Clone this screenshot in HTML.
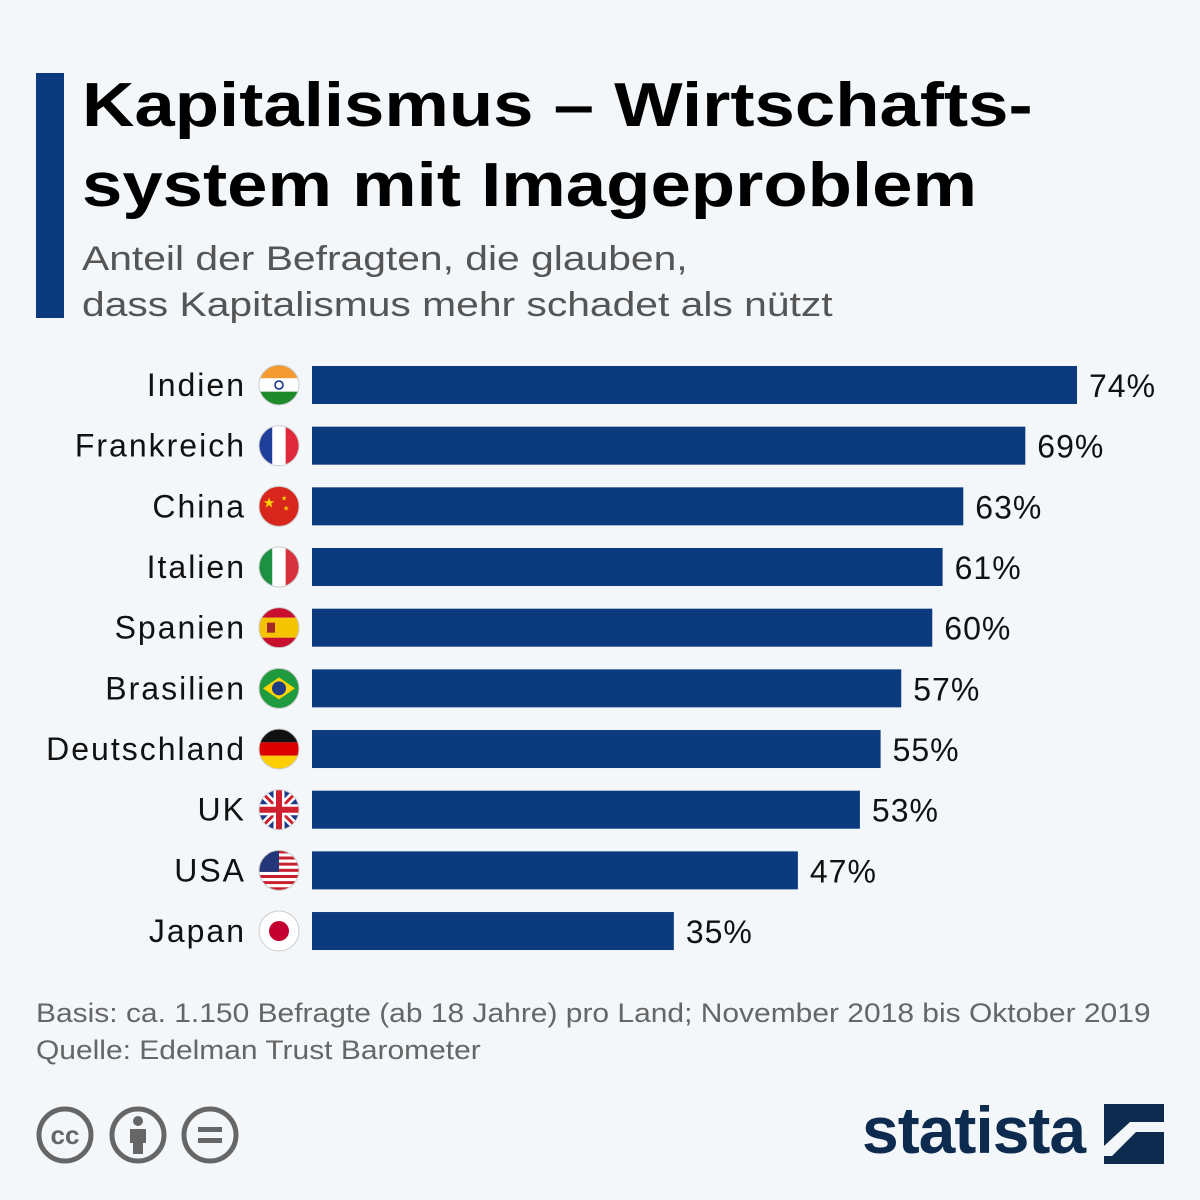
<!DOCTYPE html>
<html><head><meta charset="utf-8">
<style>
body{margin:0;width:1200px;height:1200px;background:#f3f7fa;font-family:"Liberation Sans","DejaVu Sans",sans-serif;position:relative;overflow:hidden}
.abs{position:absolute}
#title{left:82px;top:66px;font-size:62px;font-weight:bold;line-height:80px;color:#000;transform:scaleX(1.17);transform-origin:0 0;white-space:nowrap}
#sub{left:82px;top:236px;font-size:34px;line-height:46px;color:#555;transform:scaleX(1.2);transform-origin:0 0;white-space:nowrap}
#foot{left:36px;top:995px;font-size:27px;line-height:37px;color:#666;transform:scaleX(1.11);transform-origin:0 0;white-space:nowrap}
</style></head>
<body>
<div class="abs" style="left:36px;top:73px;width:28px;height:245px;background:#0b3a7e"></div>
<div class="abs" id="title">Kapitalismus – Wirtschafts-<br>system mit Imageproblem</div>
<div class="abs" id="sub">Anteil der Befragten, die glauben,<br>dass Kapitalismus mehr schadet als nützt</div>
<svg class="abs" style="left:0;top:0" width="1200" height="1200" id="chart"></svg>
<div class="abs" id="foot">Basis: ca. 1.150 Befragte (ab 18 Jahre) pro Land; November 2018 bis Oktober 2019<br>Quelle: Edelman Trust Barometer</div>
<svg class="abs" style="left:30px;top:1100px" width="220" height="70">
<g fill="none" stroke="#666" stroke-width="5">
<circle cx="35" cy="35" r="26"/><circle cx="108" cy="35" r="26"/><circle cx="180" cy="35" r="26"/></g>
<text x="35" y="44" font-size="26" font-weight="bold" fill="#666" text-anchor="middle" font-family="Liberation Sans">cc</text>
<circle cx="108" cy="21" r="5" fill="#666"/><rect x="100" y="29" width="16" height="14" fill="#666"/><rect x="103" y="40" width="10" height="14" fill="#666"/>
<rect x="168" y="27" width="24" height="5" fill="#666"/><rect x="168" y="38" width="24" height="5" fill="#666"/>
</svg>
<div class="abs" style="left:862px;top:1092px;font-size:66px;font-weight:bold;color:#0d2b4f;letter-spacing:-1px">statista</div>
<svg class="abs" style="left:1104px;top:1104px" width="60" height="60">
<rect width="60" height="60" fill="#0d2b4f"/><path d="M0 42 L26 18 L60 18 L60 28 L32 28 L8 52 L0 52Z" fill="#f3f7fa"/></svg>
<script>
const countries=["Indien","Frankreich","China","Italien","Spanien","Brasilien","Deutschland","UK","USA","Japan"];
const values=[74,69,63,61,60,57,55,53,47,35];
const svg=document.getElementById('chart');
const NS="http://www.w3.org/2000/svg";
const x0=312,scale=(1077-312)/74,y0=385,step=60.67,bh=38;
function xs(v){return x0+v*scale;}
function ys(i){return y0+i*step;}
function flag(i,cx,cy){
  const g=document.createElementNS(NS,'g');
  const id='c'+i;
  let inner='';const r=20,L=cx-r,T=cy-r,W=40;
  const h=(c,a,b)=>`<rect x="${L}" y="${T+a*W}" width="${W}" height="${(b-a)*W}" fill="${c}"/>`;
  const v=(c,a,b)=>`<rect x="${L+a*W}" y="${T}" width="${(b-a)*W}" height="${W}" fill="${c}"/>`;
  switch(i){
    case 0:inner=h('#f39b32',0,1/3)+h('#fff',1/3,2/3)+h('#1e8a2a',2/3,1)+`<circle cx="${cx}" cy="${cy}" r="4" fill="none" stroke="#0b2a80" stroke-width="1.5"/>`;break;
    case 1:inner=v('#1f3f9a',0,1/3)+v('#fff',1/3,2/3)+v('#e0293a',2/3,1);break;
    case 2:inner=`<rect x="${L}" y="${T}" width="40" height="40" fill="#d8261c"/><text x="${cx-10}" y="${cy+1}" font-size="14" fill="#ffd400" text-anchor="middle">★</text><text x="${cx+2}" y="${cy-6}" font-size="7" fill="#ffd400">★</text><text x="${cx+4}" y="${cy+4}" font-size="7" fill="#ffd400">★</text>`;break;
    case 3:inner=v('#1d9142',0,1/3)+v('#fff',1/3,2/3)+v('#d7313d',2/3,1);break;
    case 4:inner=h('#c8102e',0,.25)+h('#f5c400',.25,.75)+h('#c8102e',.75,1)+`<rect x="${cx-12}" y="${cy-5}" width="8" height="10" fill="#a4282c"/>`;break;
    case 5:inner=`<rect x="${L}" y="${T}" width="40" height="40" fill="#1f9a3e"/><path d="M${cx-16} ${cy} L${cx} ${cy-11} L${cx+16} ${cy} L${cx} ${cy+11}Z" fill="#ffd400"/><circle cx="${cx}" cy="${cy}" r="7" fill="#1f3c87"/>`;break;
    case 6:inner=h('#111',0,1/3)+h('#dd0000',1/3,2/3)+h('#ffce00',2/3,1);break;
    case 7:inner=`<rect x="${L}" y="${T}" width="40" height="40" fill="#1d3a8a"/><path d="M${L} ${T}L${L+40} ${T+40}M${L+40} ${T}L${L} ${T+40}" stroke="#fff" stroke-width="8"/><path d="M${L} ${T}L${L+40} ${T+40}M${L+40} ${T}L${L} ${T+40}" stroke="#d0202e" stroke-width="3"/><path d="M${cx} ${T}V${T+40}M${L} ${cy}H${L+40}" stroke="#fff" stroke-width="11"/><path d="M${cx} ${T}V${T+40}M${L} ${cy}H${L+40}" stroke="#d0202e" stroke-width="6"/>`;break;
    case 8:{let s='';for(let k=0;k<13;k++)s+=`<rect x="${L}" y="${T+k*40/13}" width="40" height="${40/13}" fill="${k%2?'#fff':'#c8202e'}"/>`;inner=s+`<rect x="${L}" y="${T}" width="20" height="${7*40/13}" fill="#23367a"/>`;}break;
    case 9:inner=`<rect x="${L}" y="${T}" width="40" height="40" fill="#fff"/><circle cx="${cx}" cy="${cy}" r="10" fill="#c3002f"/>`;break;
  }
  g.innerHTML=`<clipPath id="${id}"><circle cx="${cx}" cy="${cy}" r="${r}"/></clipPath><g clip-path="url(#${id})">${inner}</g><circle cx="${cx}" cy="${cy}" r="${r}" fill="none" stroke="#ccc" stroke-width="1"/>`;
  return g;
}
countries.forEach((c,i)=>{
  const cy=ys(i);
  const t=document.createElementNS(NS,'text');
  
  
  t.setAttribute('x',246);t.setAttribute('y',cy+11);t.setAttribute('text-anchor','end');
  t.setAttribute('font-size','32');t.setAttribute('letter-spacing','2');t.setAttribute('fill','#111');t.setAttribute('font-family','Liberation Sans, sans-serif');
  t.textContent=c;svg.appendChild(t);
  const f=flag(i,279,cy);
  
  
  svg.appendChild(f);
  const b=document.createElementNS(NS,'rect');
  
  
  b.setAttribute('x',x0);b.setAttribute('y',cy-bh/2);b.setAttribute('width',xs(values[i])-x0);b.setAttribute('height',bh);b.setAttribute('fill','#0b3a7e');
  svg.appendChild(b);
  const l=document.createElementNS(NS,'text');
  
  
  l.setAttribute('x',xs(values[i])+12);l.setAttribute('y',cy+12);
  l.setAttribute('font-size','32');l.setAttribute('letter-spacing','1');l.setAttribute('fill','#111');l.setAttribute('font-family','Liberation Sans, sans-serif');
  l.textContent=values[i]+'%';svg.appendChild(l);
});
</script>
</body></html>
